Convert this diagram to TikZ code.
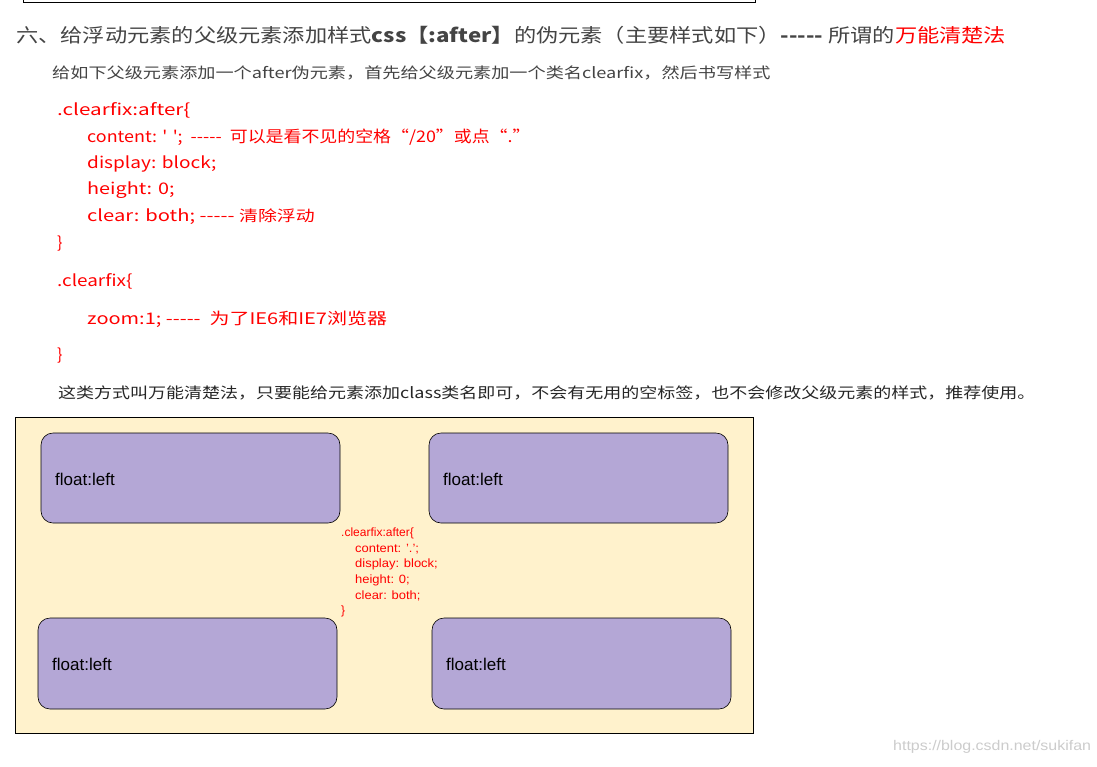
\documentclass[tikz,border=0pt]{standalone}
\usepackage{fontspec}
\usepackage{graphicx}
\setmainfont{Liberation Sans}
\newfontfamily\cjk{Noto Sans CJK SC}
\definecolor{txt}{HTML}{444444}
\definecolor{fl}{HTML}{B4A7D6}
\definecolor{bg}{HTML}{FFF2CC}
\newcommand{\sx}[2]{\scalebox{#1}[1]{#2}}
\begin{document}
\begin{tikzpicture}[x=1pt,y=-1pt,
  t/.style={anchor=west,inner sep=0pt},
  code/.style={t,text=red,font=\cjk\fontsize{16}{18}\selectfont},
  fbox/.style={draw=black,fill=fl,rounded corners=12pt,line width=0.6pt},
  flab/.style={t,font=\fontsize{17}{20}\selectfont},
  mini/.style={t,text=red,font=\fontsize{12}{14}\selectfont}]
\useasboundingbox (0,0) rectangle (1097,766);
\fill[white] (0,0) rectangle (1097,766);
\draw[line width=1pt] (23,0) -- (23,2) -- (755,2) -- (755,0);
\node[t,font=\cjk\fontsize{19}{22}\selectfont,text=txt] (h) at (16,35) {\sx{1.17}{六、给浮动元素的父级元素添加样式\textbf{css【:after】}的伪元素（主要样式如下）\textbf{-----} 所谓的\textcolor{red}{万能清楚法}}};
\node[t,font=\cjk\fontsize{15}{18}\selectfont,text=txt] (p1) at (52,73) {\sx{1.21}{给如下父级元素添加一个after伪元素，首先给父级元素加一个类名clearfix，然后书写样式}};
\node[code] (c1) at (57,110) {\sx{1.29}{.clearfix:after\{}};
\node[code] (c2) at (87,137) {\sx{1.12}{content: ' ';\ \ -----\ \ 可以是看不见的空格“/20”或点“.”}};
\node[code] (c3) at (87,164) {\sx{1.19}{display: block;}};
\node[code] (c4) at (87,190) {\sx{1.24}{height: 0;}};
\node[code] (c5) at (87,217) {\sx{1.26}{clear: both; -----  {\fontsize{15}{18}\selectfont 清除浮动}}};
\node[code] (c6) at (57,244) {\}};
\node[code] (c7) at (57,281) {\sx{1.18}{.clearfix\{}};
\node[code] (c8) at (87,319) {\sx{1.25}{zoom:1; -----\ \ 为了IE6和IE7浏览器}};
\node[code] (c9) at (57,356) {\}};
\node[t,font=\cjk\fontsize{15}{18}\selectfont,text=black!85] (p2) at (58,393) {\sx{1.2}{这类方式叫万能清楚法，只要能给元素添加class类名即可，不会有无用的空标签，也不会修改父级元素的样式，推荐使用。}};
\draw[fill=bg,line width=0.6pt] (15,417) rectangle (753,733);
\draw[fbox] (41,433) rectangle (340,523);
\draw[fbox] (429,433) rectangle (728,523);
\draw[fbox] (38,618) rectangle (337,709);
\draw[fbox] (432,618) rectangle (731,709);
\node[flab] (f1) at (55,479) {float:left};
\node[flab] (f2) at (443,479) {float:left};
\node[flab] (f3) at (52,664) {float:left};
\node[flab] (f4) at (446,664) {float:left};
\node[mini] (m1) at (341,533) {.clearfix:after\{};
\node[mini] (m2) at (355,549) {\sx{1.08}{content: '.';}};
\node[mini] (m3) at (355,564) {\sx{1.08}{display: block;}};
\node[mini] (m4) at (355,580) {\sx{1.08}{height: 0;}};
\node[mini] (m5) at (355,596) {\sx{1.08}{clear: both;}};
\node[mini] (m6) at (341,611) {\}};
\node[t,font=\fontsize{14}{16}\selectfont,text=black!20] (w) at (893,747) {\sx{1.14}{https://blog.csdn.net/sukifan}};
\end{tikzpicture}
\end{document}
